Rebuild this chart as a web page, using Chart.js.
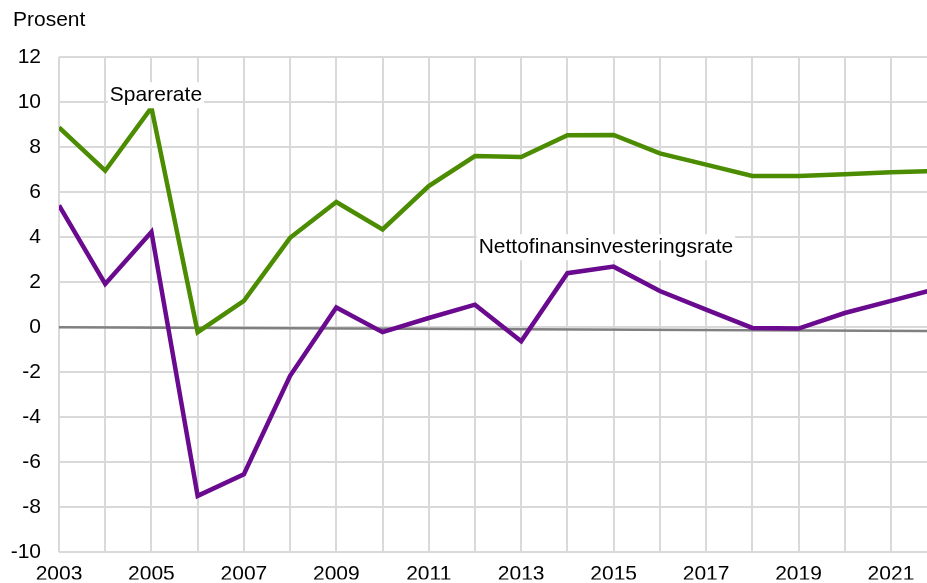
<!DOCTYPE html>
<html>
<head>
<meta charset="utf-8">
<script src="https://cdn.jsdelivr.net/npm/chart.js@4"></script>
<style>
  body { margin: 0; background: #fff; }
  #wrap { width: 927px; height: 583px; }
</style>
</head>
<body>
<div id="wrap"><canvas id="chart"></canvas></div>
<script>
const years = [2003, 2004, 2005, 2006, 2007, 2008, 2009, 2010, 2011, 2012, 2013, 2014, 2015, 2016, 2017, 2018, 2019, 2020, 2021, 2022];
const sparerate = [8.87, 6.95, 9.75, -0.22, 1.17, 3.97, 5.56, 4.34, 6.27, 7.6, 7.56, 8.53, 8.54, 7.72, 7.22, 6.72, 6.72, 6.79, 6.88, 6.94];
const nettofinans = [5.41, 1.92, 4.23, -7.49, -6.53, -2.16, 0.88, -0.22, 0.41, 1.0, -0.62, 2.4, 2.69, 1.61, 0.78, -0.03, -0.06, 0.63, 1.17, 1.71];
const nullYears = [2003, 2022];
const nullLine = [0, -0.17];
const yTicks = [-10, -8, -6, -4, -2, 0, 2, 4, 6, 8, 10, 12];

const font = { family: 'Arial, "Liberation Sans", sans-serif', size: 21 };

function toPoints(xs, ys) {
  return xs.map((x, i) => ({ x: x, y: ys[i] }));
}

// tekstbokser i figuren
const labels = [
  { text: 'Sparerate', x: 2004.1, y: 10.3 },
  { text: 'Nettofinansinvesteringsrate', x: 2012.08, y: 3.55 }
];

const textPlugin = {
  id: 'texts',
  afterDraw(chart) {
    const ctx = chart.ctx;
    const xs = chart.scales.x, ys = chart.scales.y;
    ctx.save();
    ctx.font = font.size + 'px ' + font.family;
    ctx.textBaseline = 'middle';
    ctx.textAlign = 'left';
    labels.forEach(l => {
      const px = xs.getPixelForValue(l.x);
      const py = ys.getPixelForValue(l.y);
      const w = ctx.measureText(l.text).width;
      ctx.fillStyle = '#fff';
      ctx.fillRect(px - 2, py - 13, w + 4, 26);
      ctx.fillStyle = '#000';
      ctx.fillText(l.text, px, py);
    });
    ctx.fillText('Prosent', 13, 20);
    ctx.restore();
  }
};

new Chart(document.getElementById('chart'), {
  type: 'line',
  data: {
    datasets: [
      {
        label: 'Nettofinansinvesteringsrate',
        data: toPoints(years, nettofinans),
        borderColor: '#6a0a8e',
        borderWidth: 4.5,
        pointRadius: 0,
        tension: 0
      },
      {
        label: 'Sparerate',
        data: toPoints(years, sparerate),
        borderColor: '#4b8c00',
        borderWidth: 4.5,
        pointRadius: 0,
        tension: 0
      },
      {
        label: 'null',
        data: toPoints(nullYears, nullLine),
        borderColor: '#808080',
        borderWidth: 2.5,
        pointRadius: 0,
        tension: 0
      }
    ]
  },
  options: {
    responsive: true,
    maintainAspectRatio: false,
    animation: false,
    layout: { padding: { top: 57, right: 0, left: 0, bottom: 0 } },
    plugins: {
      legend: { display: false },
      tooltip: { enabled: false }
    },
    scales: {
      x: {
        type: 'linear',
        min: 2003,
        max: 2021.78,
        afterBuildTicks(scale) {
          scale.ticks = years.filter(y => y <= 2021).map(y => ({ value: y }));
        },
        afterFit(scale) { scale.height = 27; },
        grid: { color: '#d9d9d9', lineWidth: 2, drawTicks: false },
        border: { display: false },
        ticks: {
          autoSkip: false,
          maxRotation: 0,
          padding: 9,
          color: '#000',
          font: font,
          callback: v => (v % 2 === 1 ? String(v) : '')
        }
      },
      y: {
        min: -10,
        max: 12,
        afterBuildTicks(scale) {
          scale.ticks = yTicks.map(v => ({ value: v }));
        },
        afterFit(scale) { scale.width = 59; },
        grid: { color: '#d9d9d9', lineWidth: 2, drawTicks: false },
        border: { display: false },
        ticks: {
          padding: 18,
          color: '#000',
          font: font
        }
      }
    }
  },
  plugins: [textPlugin]
});
</script>
</body>
</html>
